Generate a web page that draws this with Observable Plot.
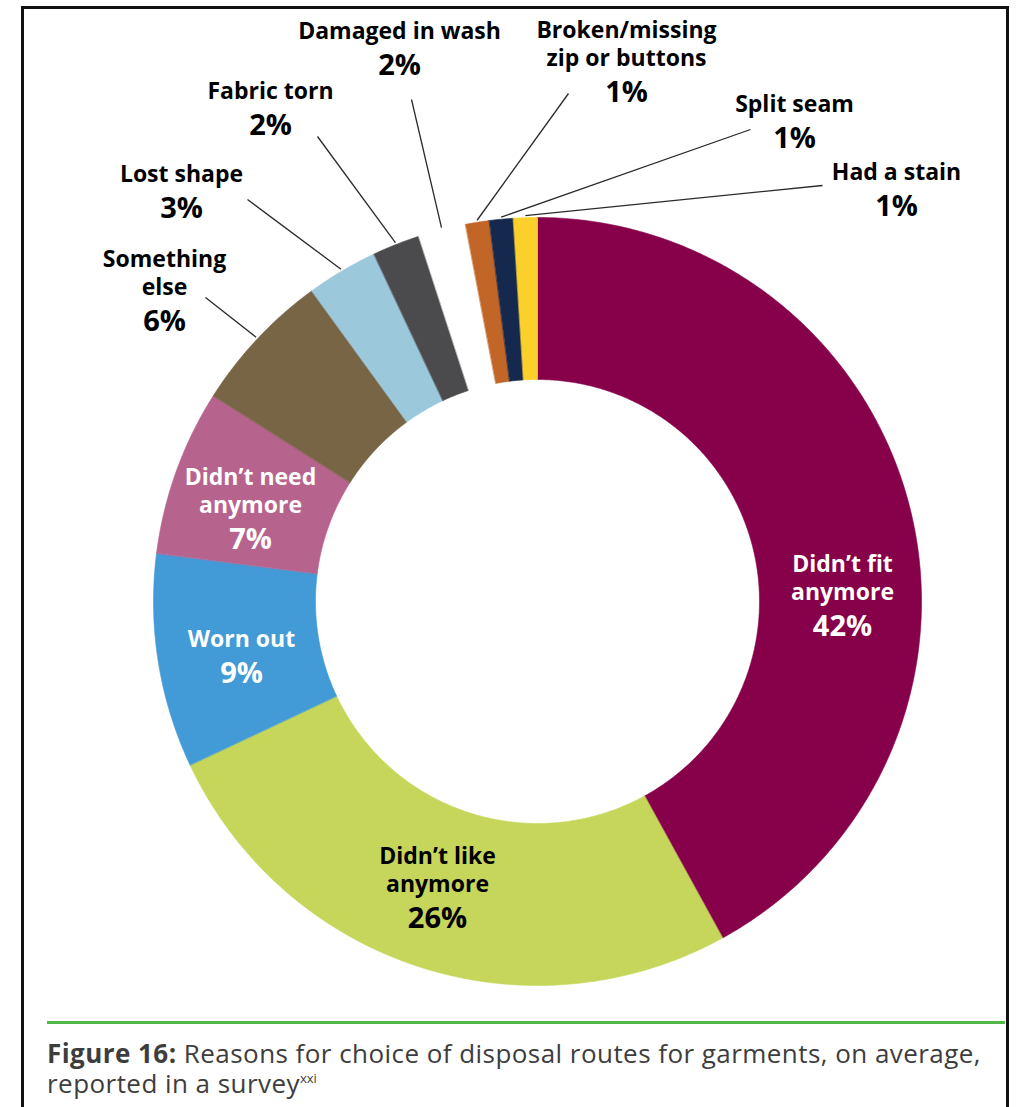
<!DOCTYPE html>
<html><head><meta charset="utf-8">
<script src="https://cdn.jsdelivr.net/npm/d3@7"></script>
<script src="https://cdn.jsdelivr.net/npm/@observablehq/plot@0.6"></script>
<style>
html,body{margin:0;padding:0;background:#fff;}
body{width:1018px;height:1107px;position:relative;overflow:hidden;font-family:"Open Sans",sans-serif;}
#chart{position:absolute;left:0;top:0;}
#frame{position:absolute;left:21px;top:6px;width:988px;height:1120px;border:3px solid #111;border-bottom:none;box-sizing:border-box;pointer-events:none;}
#rule{position:absolute;left:47px;top:1021px;width:958px;height:3px;background:#52b848;}
#caption{position:absolute;left:47px;top:1038px;width:960px;font-size:26px;letter-spacing:0.45px;line-height:30px;color:#3d3d3d;white-space:nowrap;}
#caption b{font-weight:700;}
#caption sup{font-size:13px;vertical-align:10px;line-height:0;letter-spacing:0;}
</style>
</head><body>
<div id="chart"></div>
<div id="frame"></div>
<div id="rule"></div>
<div id="caption"><b>Figure 16:</b> Reasons for choice of disposal routes for garments, on average,<br>reported in a survey<sup>xxi</sup></div>
<script>
// ---- data ----
const categories = ["Didn’t fit anymore","Didn’t like anymore","Worn out","Didn’t need anymore","Something else","Lost shape","Fabric torn","Damaged in wash","Broken/missing zip or buttons","Split seam","Had a stain"];
const values = [42, 26, 9, 7, 6, 3, 2, 2, 1, 1, 1];
const nameLines = ["Didn’t fit\nanymore","Didn’t like\nanymore","Worn out","Didn’t need\nanymore","Something\nelse","Lost shape","Fabric torn","Damaged in wash","Broken/missing\nzip or buttons","Split seam","Had a stain"];
const pctLabels = ["42%","26%","9%","7%","6%","3%","2%","2%","1%","1%","1%"];
const colors = ["#86004a","#c5d65b","#429ad6","#b6648e","#786546","#9cc8dc","#4b4b4d","#ffffff","#c26628","#15294f","#fbd02a"];

// ---- layout (pixel space of the plot) ----
const W = 1018, H = 1010;
const CX = 537, CY = 601, R_IN = 222, R_OUT = 384;
// label anchor: x centre, y = baseline of percentage; text fill; leader start (lx, ly) for outside labels
const labelLayout = [
  {x: 842, y: 635, fill: "white"},
  {x: 437, y: 927, fill: "black"},
  {x: 241, y: 682, fill: "white"},
  {x: 250, y: 548, fill: "white"},
  {x: 164, y: 330, fill: "black", lx: 205, ly: 297},
  {x: 181, y: 217, fill: "black", lx: 247, ly: 199},
  {x: 270, y: 134, fill: "black", lx: 317, ly: 136},
  {x: 399, y: 74,  fill: "black", lx: 411, ly: 99},
  {x: 626, y: 101, fill: "black", lx: 568, ly: 93},
  {x: 794, y: 147, fill: "black", lx: 750, ly: 129},
  {x: 896, y: 215, fill: "black", lx: 822, ly: 185}
];

const arcs = d3.pie().sort(null).value(d => d)(values);
const px = (a, r) => CX + r * Math.sin(a);
const py = (a, r) => CY - r * Math.cos(a);

const points = [];
arcs.forEach((arc, i) => {
  const a0 = arc.startAngle, a1 = arc.endAngle;
  const n = Math.max(2, Math.ceil((a1 - a0) / (Math.PI / 360)));
  for (let k = 0; k <= n; ++k) {
    const a = a0 + (a1 - a0) * k / n;
    points.push({cat: categories[i], x: px(a, R_OUT), y: py(a, R_OUT)});
  }
  for (let k = n; k >= 0; --k) {
    const a = a0 + (a1 - a0) * k / n;
    points.push({cat: categories[i], x: px(a, R_IN), y: py(a, R_IN)});
  }
});

const labels = categories.map((c, i) => {
  const mid = (arcs[i].startAngle + arcs[i].endAngle) / 2;
  const L = labelLayout[i];
  return {cat: c, name: nameLines[i], pct: pctLabels[i], x: L.x, y: L.y, fill: L.fill,
          lx: L.lx, ly: L.ly, ex: px(mid, R_OUT + 2), ey: py(mid, R_OUT + 2)};
});
const leaders = labels.filter(d => d.lx !== undefined);

const font = "Open Sans";
const chart = Plot.plot({
  width: W, height: H,
  margin: 0,
  x: {domain: [0, W], range: [0, W], axis: null},
  y: {domain: [0, H], range: [0, H], axis: null},
  color: {domain: categories, range: colors},
  style: {background: "white", fontFamily: font},
  marks: [
    Plot.line(points, {x: "x", y: "y", z: "cat", fill: "cat", stroke: "cat", strokeWidth: 0.6, curve: "linear-closed"}),
    Plot.link(leaders, {x1: "lx", y1: "ly", x2: "ex", y2: "ey", stroke: "#2a2a2a", strokeWidth: 1.3}),
    ...["white", "black"].flatMap(f => [
      Plot.text(labels.filter(d => d.fill === f), {x: "x", y: d => d.y - 36, text: "name", lineAnchor: "bottom", lineHeight: 28 / 23, fontSize: 23, fontWeight: 700, fill: f, textAnchor: "middle", fontFamily: font}),
      Plot.text(labels.filter(d => d.fill === f), {x: "x", y: "y", text: "pct", lineAnchor: "bottom", fontSize: 29, fontWeight: 700, fill: f, textAnchor: "middle", fontFamily: font})
    ])
  ]
});
document.getElementById("chart").appendChild(chart);
</script>
</body></html>
